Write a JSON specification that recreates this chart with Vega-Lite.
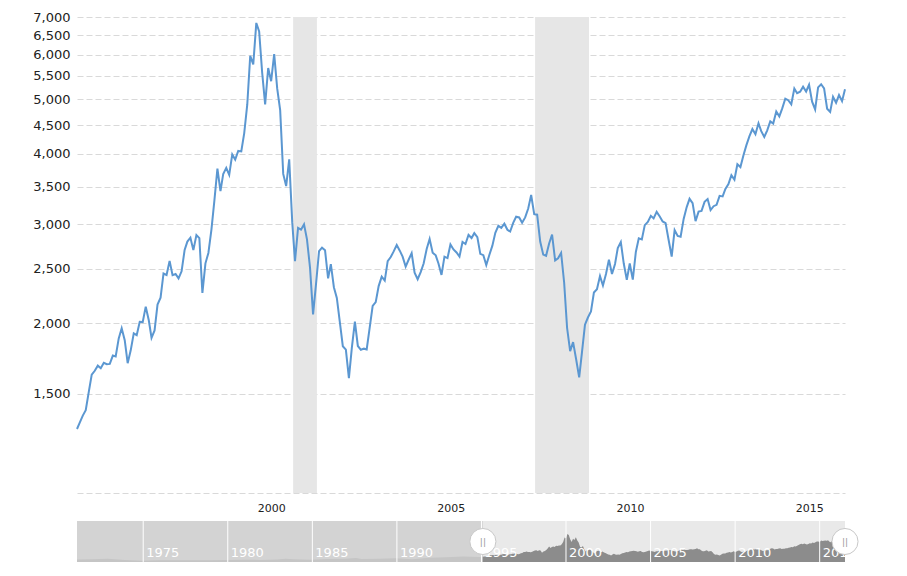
{
  "$schema": "https://vega.github.io/schema/vega-lite/v6.json",
  "background": "white",
  "padding": {"left": 32, "top": 11, "right": 40, "bottom": 10},
  "config": {"view": {"stroke": null}, "font": "DejaVu Sans"},
  "bounds": "flush",
  "spacing": 28,
  "datasets": {
    "main": [
      {"d":"1995-02","v":1299},{"d":"1995-03","v":1333},{"d":"1995-04","v":1372},{"d":"1995-05","v":1403},{"d":"1995-06","v":1512},{"d":"1995-07","v":1622},{"d":"1995-08","v":1648},{"d":"1995-09","v":1683},{"d":"1995-10","v":1665},{"d":"1995-11","v":1703},{"d":"1995-12","v":1693},
      {"d":"1996-01","v":1695},{"d":"1996-02","v":1754},{"d":"1996-03","v":1747},{"d":"1996-04","v":1881},{"d":"1996-05","v":1961},{"d":"1996-06","v":1868},{"d":"1996-07","v":1700},{"d":"1996-08","v":1792},{"d":"1996-09","v":1920},{"d":"1996-10","v":1906},{"d":"1996-11","v":2013},{"d":"1996-12","v":2011},
      {"d":"1997-01","v":2142},{"d":"1997-02","v":2026},{"d":"1997-03","v":1886},{"d":"1997-04","v":1944},{"d":"1997-05","v":2160},{"d":"1997-06","v":2222},{"d":"1997-07","v":2453},{"d":"1997-08","v":2438},{"d":"1997-09","v":2583},{"d":"1997-10","v":2436},{"d":"1997-11","v":2448},{"d":"1997-12","v":2405},
      {"d":"1998-01","v":2475},{"d":"1998-02","v":2701},{"d":"1998-03","v":2795},{"d":"1998-04","v":2840},{"d":"1998-05","v":2699},{"d":"1998-06","v":2871},{"d":"1998-07","v":2834},{"d":"1998-08","v":2266},{"d":"1998-09","v":2557},{"d":"1998-10","v":2668},{"d":"1998-11","v":2936},{"d":"1998-12","v":3304},
      {"d":"1999-01","v":3767},{"d":"1999-02","v":3436},{"d":"1999-03","v":3685},{"d":"1999-04","v":3779},{"d":"1999-05","v":3672},{"d":"1999-06","v":3992},{"d":"1999-07","v":3909},{"d":"1999-08","v":4049},{"d":"1999-09","v":4040},{"d":"1999-10","v":4356},{"d":"1999-11","v":4896},{"d":"1999-12","v":5972},
      {"d":"2000-01","v":5766},{"d":"2000-02","v":6832},{"d":"2000-03","v":6598},{"d":"2000-04","v":5567},{"d":"2000-05","v":4898},{"d":"2000-06","v":5682},{"d":"2000-07","v":5385},{"d":"2000-08","v":6013},{"d":"2000-09","v":5223},{"d":"2000-10","v":4783},{"d":"2000-11","v":3686},{"d":"2000-12","v":3507},
      {"d":"2001-01","v":3911},{"d":"2001-02","v":3023},{"d":"2001-03","v":2580},{"d":"2001-04","v":2955},{"d":"2001-05","v":2934},{"d":"2001-06","v":2998},{"d":"2001-07","v":2821},{"d":"2001-08","v":2512},{"d":"2001-09","v":2076},{"d":"2001-10","v":2349},{"d":"2001-11","v":2688},{"d":"2001-12","v":2726},
      {"d":"2002-01","v":2697},{"d":"2002-02","v":2405},{"d":"2002-03","v":2549},{"d":"2002-04","v":2319},{"d":"2002-05","v":2220},{"d":"2002-06","v":2009},{"d":"2002-07","v":1822},{"d":"2002-08","v":1797},{"d":"2002-09","v":1599},{"d":"2002-10","v":1812},{"d":"2002-11","v":2015},{"d":"2002-12","v":1824},
      {"d":"2003-01","v":1796},{"d":"2003-02","v":1804},{"d":"2003-03","v":1798},{"d":"2003-04","v":1968},{"d":"2003-05","v":2148},{"d":"2003-06","v":2182},{"d":"2003-07","v":2330},{"d":"2003-08","v":2422},{"d":"2003-09","v":2383},{"d":"2003-10","v":2580},{"d":"2003-11","v":2624},{"d":"2003-12","v":2685},
      {"d":"2004-01","v":2756},{"d":"2004-02","v":2693},{"d":"2004-03","v":2628},{"d":"2004-04","v":2523},{"d":"2004-05","v":2595},{"d":"2004-06","v":2666},{"d":"2004-07","v":2461},{"d":"2004-08","v":2396},{"d":"2004-09","v":2467},{"d":"2004-10","v":2555},{"d":"2004-11","v":2712},{"d":"2004-12","v":2824},
      {"d":"2005-01","v":2671},{"d":"2005-02","v":2642},{"d":"2005-03","v":2555},{"d":"2005-04","v":2439},{"d":"2005-05","v":2628},{"d":"2005-06","v":2612},{"d":"2005-07","v":2762},{"d":"2005-08","v":2707},{"d":"2005-09","v":2673},{"d":"2005-10","v":2629},{"d":"2005-11","v":2791},{"d":"2005-12","v":2768},
      {"d":"2006-01","v":2872},{"d":"2006-02","v":2836},{"d":"2006-03","v":2893},{"d":"2006-04","v":2847},{"d":"2006-05","v":2658},{"d":"2006-06","v":2644},{"d":"2006-07","v":2539},{"d":"2006-08","v":2645},{"d":"2006-09","v":2749},{"d":"2006-10","v":2897},{"d":"2006-11","v":2981},{"d":"2006-12","v":2956},
      {"d":"2007-01","v":3007},{"d":"2007-02","v":2933},{"d":"2007-03","v":2912},{"d":"2007-04","v":3017},{"d":"2007-05","v":3094},{"d":"2007-06","v":3085},{"d":"2007-07","v":3019},{"d":"2007-08","v":3085},{"d":"2007-09","v":3200},{"d":"2007-10","v":3381},{"d":"2007-11","v":3127},{"d":"2007-12","v":3120},
      {"d":"2008-01","v":2796},{"d":"2008-02","v":2650},{"d":"2008-03","v":2637},{"d":"2008-04","v":2774},{"d":"2008-05","v":2877},{"d":"2008-06","v":2588},{"d":"2008-07","v":2611},{"d":"2008-08","v":2669},{"d":"2008-09","v":2362},{"d":"2008-10","v":1963},{"d":"2008-11","v":1786},{"d":"2008-12","v":1853},
      {"d":"2009-01","v":1728},{"d":"2009-02","v":1604},{"d":"2009-03","v":1775},{"d":"2009-04","v":1990},{"d":"2009-05","v":2049},{"d":"2009-06","v":2101},{"d":"2009-07","v":2269},{"d":"2009-08","v":2300},{"d":"2009-09","v":2427},{"d":"2009-10","v":2336},{"d":"2009-11","v":2449},{"d":"2009-12","v":2596},
      {"d":"2010-01","v":2448},{"d":"2010-02","v":2551},{"d":"2010-03","v":2722},{"d":"2010-04","v":2789},{"d":"2010-05","v":2555},{"d":"2010-06","v":2390},{"d":"2010-07","v":2555},{"d":"2010-08","v":2392},{"d":"2010-09","v":2679},{"d":"2010-10","v":2832},{"d":"2010-11","v":2820},{"d":"2010-12","v":2989},
      {"d":"2011-01","v":3029},{"d":"2011-02","v":3105},{"d":"2011-03","v":3073},{"d":"2011-04","v":3156},{"d":"2011-05","v":3099},{"d":"2011-06","v":3035},{"d":"2011-07","v":3014},{"d":"2011-08","v":2813},{"d":"2011-09","v":2629},{"d":"2011-10","v":2929},{"d":"2011-11","v":2861},{"d":"2011-12","v":2851},
      {"d":"2012-01","v":3066},{"d":"2012-02","v":3218},{"d":"2012-03","v":3329},{"d":"2012-04","v":3270},{"d":"2012-05","v":3039},{"d":"2012-06","v":3159},{"d":"2012-07","v":3169},{"d":"2012-08","v":3288},{"d":"2012-09","v":3326},{"d":"2012-10","v":3179},{"d":"2012-11","v":3230},{"d":"2012-12","v":3248},
      {"d":"2013-01","v":3370},{"d":"2013-02","v":3362},{"d":"2013-03","v":3467},{"d":"2013-04","v":3536},{"d":"2013-05","v":3665},{"d":"2013-06","v":3600},{"d":"2013-07","v":3835},{"d":"2013-08","v":3791},{"d":"2013-09","v":3979},{"d":"2013-10","v":4146},{"d":"2013-11","v":4302},{"d":"2013-12","v":4427},
      {"d":"2014-01","v":4334},{"d":"2014-02","v":4532},{"d":"2014-03","v":4389},{"d":"2014-04","v":4287},{"d":"2014-05","v":4405},{"d":"2014-06","v":4569},{"d":"2014-07","v":4529},{"d":"2014-08","v":4756},{"d":"2014-09","v":4663},{"d":"2014-10","v":4818},{"d":"2014-11","v":5011},{"d":"2014-12","v":4982},
      {"d":"2015-01","v":4899},{"d":"2015-02","v":5224},{"d":"2015-03","v":5127},{"d":"2015-04","v":5159},{"d":"2015-05","v":5266},{"d":"2015-06","v":5162},{"d":"2015-07","v":5307},{"d":"2015-08","v":4951},{"d":"2015-09","v":4797},{"d":"2015-10","v":5249},{"d":"2015-11","v":5318},{"d":"2015-12","v":5230},
      {"d":"2016-01","v":4811},{"d":"2016-02","v":4748},{"d":"2016-03","v":5052},{"d":"2016-04","v":4929},{"d":"2016-05","v":5088},{"d":"2016-06","v":4963},{"d":"2016-07","v":5210}
    ],
    "early": [
      {"d":"1971-02","v":635},{"d":"1971-12","v":685},{"d":"1972-12","v":779},{"d":"1973-12","v":492},{"d":"1974-12","v":286},{"d":"1975-12","v":433},{"d":"1976-12","v":416},{"d":"1977-12","v":418},{"d":"1978-12","v":431},{"d":"1979-12","v":486},{"d":"1980-12","v":578},{"d":"1981-12","v":515},{"d":"1982-12","v":587},{"d":"1983-06","v":792},{"d":"1983-12","v":680},{"d":"1984-12","v":579},{"d":"1985-12","v":734},{"d":"1986-12","v":780},{"d":"1987-08","v":988},{"d":"1987-12","v":708},{"d":"1988-12","v":781},{"d":"1989-12","v":889},{"d":"1990-12","v":690},{"d":"1991-12","v":1050},{"d":"1992-12","v":1178},{"d":"1993-12","v":1316},{"d":"1994-12","v":1241},{"d":"1995-02","v":1299}
    ],
    "recessions": [{"start":"2001-02-10","end":"2001-10-10"},{"start":"2007-11-10","end":"2009-05-12"}],
    "bands": [{"part":"masked","start":"1971-02","end":"1995-02"},{"part":"selected","start":"1995-02","end":"2016-07"}],
    "navyears": [{"d":"1975-01-01","label":"1975"},{"d":"1980-01-01","label":"1980"},{"d":"1985-01-01","label":"1985"},{"d":"1990-01-01","label":"1990"},{"d":"1995-01-01","label":"1995"},{"d":"2000-01-01","label":"2000"},{"d":"2005-01-01","label":"2005"},{"d":"2010-01-01","label":"2010"},{"d":"2015-01-01","label":"2015"}],
    "handles": [{"d":"1995-02"},{"d":"2016-07"}]
  },
  "vconcat": [
    {
      "width": 768,
      "height": 476,
      "layer": [
        {
          "data": {"name": "recessions"},
          "mark": {"type": "rect", "color": "#e6e6e6"},
          "encoding": {
            "x": {"field": "start", "type": "temporal",
                  "scale": {"domain": [{"year":1995,"month":2,"date":1},{"year":2016,"month":7,"date":1}]},
                  "axis": {"title": null, "values": [{"year":2000},{"year":2005},{"year":2010},{"year":2015}], "format": "%Y",
                           "labelAlign": "left", "labelOffset": 4, "labelPadding": 9, "labelFlush": false,
                           "ticks": false, "domain": false, "grid": false, "labelFontSize": 11, "labelColor": "#222"}},
            "x2": {"field": "end"}
          }
        },
        {
          "data": {"name": "main"},
          "mark": {"type": "line", "color": "#5b97d1", "strokeWidth": 2},
          "encoding": {
            "x": {"field": "d", "type": "temporal", "title": null},
            "y": {"field": "v", "type": "quantitative",
                  "scale": {"type": "log", "domain": [1000, 7000]},
                  "axis": {"title": null, "values": [1000,1500,2000,2500,3000,3500,4000,4500,5000,5500,6000,6500,7000],
                           "labelExpr": "datum.value == 1000 ? '' : format(datum.value, ',')",
                           "grid": true, "gridDash": [6,3], "gridColor": "#d9d9d9", "domain": false, "ticks": false,
                           "labelPadding": 7, "labelFontSize": 13, "labelColor": "#222"}}
          }
        }
      ]
    },
    {
      "width": 768,
      "height": 41,
      "layer": [
        {
          "data": {"name": "bands"},
          "mark": {"type": "rect", "color": "#e9e9e9"},
          "encoding": {
            "x": {"field": "start", "type": "temporal",
                  "scale": {"domain": [{"year":1971,"month":2,"date":1},{"year":2016,"month":7,"date":1}]},
                  "axis": null},
            "x2": {"field": "end"}
          }
        },
        {
          "data": {"name": "early"},
          "mark": {"type": "area", "color": "#8c8c8c"},
          "encoding": {
            "x": {"field": "d", "type": "temporal", "title": null},
            "y": {"field": "v", "type": "quantitative", "scale": {"domain": [0, 10000]}, "axis": null}
          }
        },
        {
          "data": {"name": "main"},
          "mark": {"type": "area", "color": "#8c8c8c"},
          "encoding": {
            "x": {"field": "d", "type": "temporal", "title": null},
            "y": {"field": "v", "type": "quantitative"}
          }
        },
        {
          "data": {"name": "bands"},
          "transform": [{"filter": "datum.part == 'masked'"}],
          "mark": {"type": "rect", "color": "#cfcfcf", "opacity": 0.85},
          "encoding": {
            "x": {"field": "start", "type": "temporal", "title": null},
            "x2": {"field": "end"}
          }
        },
        {
          "data": {"name": "navyears"},
          "mark": {"type": "rule", "color": "white", "strokeWidth": 1},
          "encoding": {
            "x": {"field": "d", "type": "temporal", "title": null}
          }
        },
        {
          "data": {"name": "navyears"},
          "mark": {"type": "text", "color": "white", "fontSize": 13, "align": "left", "baseline": "bottom", "dx": 3},
          "encoding": {
            "x": {"field": "d", "type": "temporal", "title": null},
            "y": {"datum": 600},
            "text": {"field": "label"}
          }
        },
        {
          "data": {"name": "handles"},
          "mark": {"type": "circle", "size": 680, "fill": "white", "stroke": "#c8c8c8", "strokeWidth": 1, "opacity": 1},
          "encoding": {
            "x": {"field": "d", "type": "temporal", "title": null},
            "y": {"datum": 5000}
          }
        },
        {
          "data": {"name": "handles"},
          "mark": {"type": "text", "text": "||", "fontSize": 9, "color": "#999999"},
          "encoding": {
            "x": {"field": "d", "type": "temporal", "title": null},
            "y": {"datum": 5000}
          }
        }
      ]
    }
  ]
}
